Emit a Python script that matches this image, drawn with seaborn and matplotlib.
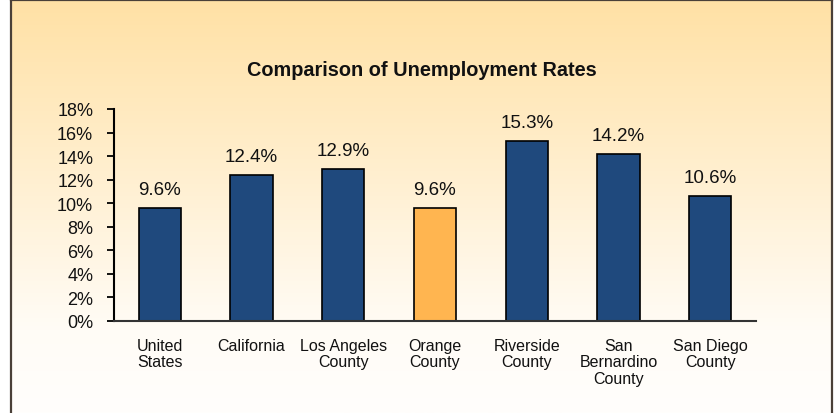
import numpy as np
import pandas as pd
import matplotlib
matplotlib.use("Agg")
import matplotlib.pyplot as plt
import seaborn as sns
from matplotlib.colors import LinearSegmentedColormap

categories = ["United\nStates", "California", "Los Angeles\nCounty", "Orange\nCounty",
              "Riverside\nCounty", "San\nBernardino\nCounty", "San Diego\nCounty"]
rates = [9.6, 12.4, 12.9, 9.6, 15.3, 14.2, 10.6]
bar_colors = ["#1F497D", "#1F497D", "#1F497D", "#FFB550", "#1F497D", "#1F497D", "#1F497D"]
yticks = [0, 2, 4, 6, 8, 10, 12, 14, 16, 18]

sns.set_theme(style="white")
plt.rcParams['font.family'] = ['Liberation Sans', 'DejaVu Sans']

W, H = 834, 414
fig = plt.figure(figsize=(W / 100, H / 100), dpi=100)
fig.patch.set_facecolor("white")

# gradient background panel with border
bg = fig.add_axes([11 / W, 0, (832 - 11) / W, (H - 1) / H])
grad = np.linspace(0, 1, 256).reshape(-1, 1)
cmap = LinearSegmentedColormap.from_list("g", [(0, "#FFE1A5"), (0.8, "#FFFCF6"), (1, "#FFFEFC")])
bg.imshow(grad, aspect="auto", cmap=cmap, extent=[0, 1, 0, 1], origin="upper")
bg.set_xlim(0, 1); bg.set_ylim(0, 1)
bg.set_xticks([]); bg.set_yticks([])
for s in ["left", "top", "right"]:
    bg.spines[s].set_color("#4A4038")
    bg.spines[s].set_linewidth(1.6)
bg.spines["bottom"].set_visible(False)
bg.set_zorder(0)

ax = fig.add_axes([114 / W, 1 - 322 / H, (756 - 114) / W, (322 - 110) / H])
ax.set_zorder(1)
ax.patch.set_alpha(0)

df = pd.DataFrame({"cat": categories, "rate": rates})
sns.barplot(data=df, x="cat", y="rate", hue="cat", palette=bar_colors, legend=False,
            width=0.46, edgecolor="black", linewidth=1.2, ax=ax, saturation=1)

for c in ax.containers:
    ax.bar_label(c, labels=[f"{v:.1f}%" for v in c.datavalues], padding=7, fontsize=13.5, color="#111111")

ax.set_ylim(0, 18)
ax.set_xlim(-0.5, len(categories) - 0.5)
ax.set_yticks(yticks)
ax.set_yticklabels([f"{t}%" for t in yticks], fontsize=13, color="#111111")
ax.set_xlabel("")
ax.set_ylabel("")
ax.tick_params(axis="y", left=True, length=5, width=1.3, color="black", pad=10, direction="out")
ax.tick_params(axis="x", bottom=False, pad=6, labelsize=11.5, labelcolor="#111111")
for lab in ax.get_xticklabels():
    lab.set_linespacing(1.12)
    lab.set_va("top")
for s in ["top", "right"]:
    ax.spines[s].set_visible(False)
ax.spines["left"].set_color("black")
ax.spines["left"].set_linewidth(1.5)
ax.spines["bottom"].set_color("#333333")
ax.spines["bottom"].set_linewidth(1.5)

fig.text(422 / W, 1 - 70 / H, "Comparison of Unemployment Rates", ha="center", va="center",
         fontsize=14.3, fontweight="bold", color="#111111")

fig.savefig("out.png", dpi=100)
